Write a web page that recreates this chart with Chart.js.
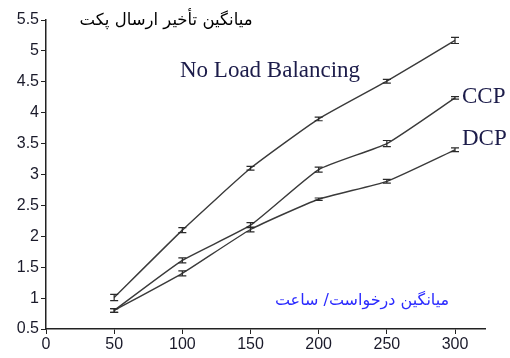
<!DOCTYPE html>
<html>
<head>
<meta charset="utf-8">
<script src="https://cdn.jsdelivr.net/npm/chart.js@4"></script>
<style>
  html, body { margin: 0; padding: 0; background: #fff; }
  #wrap { width: 510px; height: 358px; }
</style>
</head>
<body>
<div id="wrap"><canvas id="c"></canvas></div>
<script>
// data
const requests = [50, 100, 150, 200, 250, 300];
const noBalance = [1.01, 2.1, 3.1, 3.9, 4.51, 5.17];
const ccp = [0.8, 1.61, 2.18, 3.08, 3.5, 4.24];
const dcp = [0.8, 1.4, 2.11, 2.6, 2.89, 3.4];
const errNoBalance = [0.05, 0.04, 0.03, 0.03, 0.03, 0.05];
const errCcp = [0.03, 0.04, 0.04, 0.04, 0.05, 0.02];
const errDcp = [0.03, 0.04, 0.04, 0.02, 0.03, 0.03];
const xTicks = [0, 50, 100, 150, 200, 250, 300];
const yTicks = ['0.5', '1', '1.5', '2', '2.5', '3', '3.5', '4', '4.5', '5', '5.5'];

const yTitle = 'میانگین تأخیر ارسال پکت';
const xTitle = 'میانگین درخواست/ ساعت';

function pts(ys) {
    return requests.map((x, i) => ({ x: x, y: ys[i] }));
}

function series(ys, errs) {
    return {
        data: pts(ys),
        errs: errs,
        borderColor: '#3a3a3a',
        borderWidth: 1.4,
        pointRadius: 0,
        tension: 0.15,
        fill: false
    };
}

// error bars and text labels
const extras = {
    id: 'extras',
    afterDatasetsDraw(chart) {
        const ctx = chart.ctx;
        const xs = chart.scales.x, ys = chart.scales.y;
        ctx.save();
        ctx.strokeStyle = '#2a2a2a';
        ctx.lineWidth = 1.2;
        chart.data.datasets.forEach(ds => {
            ds.data.forEach((p, i) => {
                const px = xs.getPixelForValue(p.x);
                const top = ys.getPixelForValue(p.y + ds.errs[i]);
                const bot = ys.getPixelForValue(p.y - ds.errs[i]);
                ctx.beginPath();
                ctx.moveTo(px, top); ctx.lineTo(px, bot);
                ctx.moveTo(px - 4, top); ctx.lineTo(px + 4, top);
                ctx.moveTo(px - 4, bot); ctx.lineTo(px + 4, bot);
                ctx.stroke();
            });
        });

        ctx.fillStyle = '#1c1c4a';
        ctx.font = '23px "Liberation Serif", serif';
        ctx.textBaseline = 'middle';
        ctx.textAlign = 'left';
        ctx.fillText('No Load Balancing', 180, 71);
        ctx.fillText('CCP', 462, 97);
        ctx.fillText('DCP', 462, 139);

        ctx.direction = 'rtl';
        ctx.textAlign = 'center';
        ctx.font = '16.5px "DejaVu Sans", sans-serif';
        ctx.fillStyle = '#000';
        ctx.fillText(yTitle, 166, 21);
        ctx.font = '16px "DejaVu Sans", sans-serif';
        ctx.fillStyle = '#2b2bff';
        ctx.fillText(xTitle, 362, 301);
        ctx.restore();
    }
};

new Chart(document.getElementById('c'), {
    type: 'line',
    data: {
        datasets: [
            series(noBalance, errNoBalance),
            series(ccp, errCcp),
            series(dcp, errDcp)
        ]
    },
    options: {
        responsive: true,
        maintainAspectRatio: false,
        animation: false,
        layout: { padding: { top: 20, right: 25, left: 0, bottom: 0 } },
        plugins: { legend: { display: false }, tooltip: { enabled: false } },
        scales: {
            x: {
                type: 'linear',
                min: 0,
                max: 322,
                afterBuildTicks: s => { s.ticks = xTicks.map(v => ({ value: v })); },
                afterFit: s => { s.height = 29; },
                ticks: {
                    color: '#1a1a2a',
                    font: { family: '"Liberation Sans", Arial, sans-serif', size: 16 },
                    padding: 1,
                    maxRotation: 0,
                    autoSkip: false
                },
                grid: { drawOnChartArea: false, tickLength: 5, color: '#222' },
                border: { color: '#222', width: 1.5 }
            },
            y: {
                min: 0.5,
                max: 5.5,
                afterFit: s => { s.width = 46; },
                ticks: {
                    stepSize: 0.5,
                    color: '#1a1a2a',
                    font: { family: '"Liberation Sans", Arial, sans-serif', size: 16 },
                    padding: 2,
                    callback: (v, i) => yTicks[i]
                },
                grid: { drawOnChartArea: false, tickLength: 5, color: '#222' },
                border: { color: '#222', width: 1.5 }
            }
        }
    },
    plugins: [extras]
});
</script>
</body>
</html>
